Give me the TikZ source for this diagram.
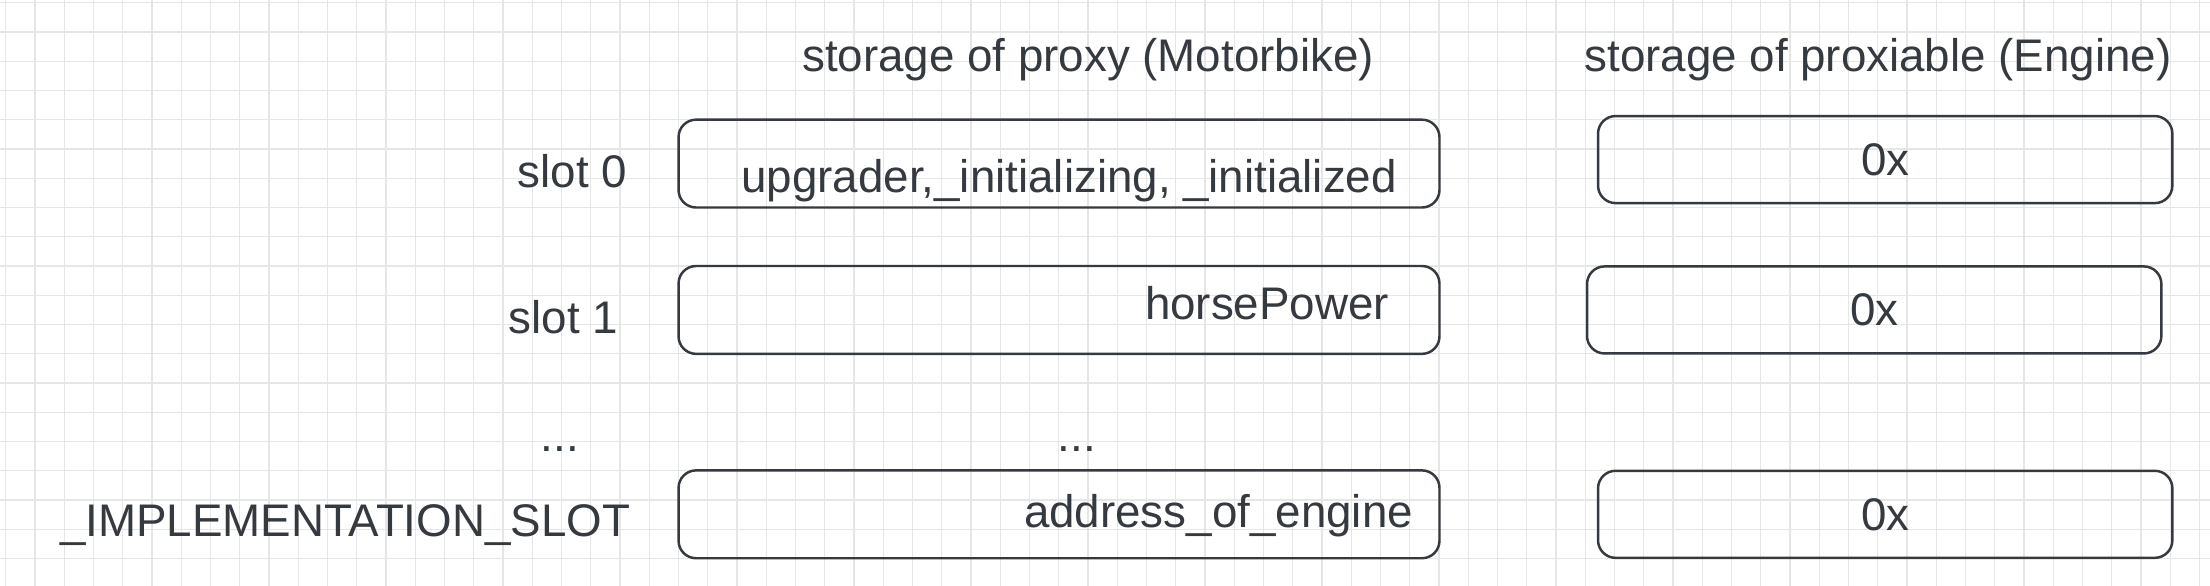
\documentclass[tikz,border=0pt]{standalone}
\usepackage{fontspec}
\setmainfont{Liberation Sans}
\usepackage{tikz}
\usetikzlibrary{positioning}
\definecolor{ink}{HTML}{343A40}
\definecolor{gridgray}{HTML}{E6E6E6}
\tikzset{
  slotbox/.style={rectangle,rounded corners=5pt,draw=ink,line width=0.7pt,
    minimum width=7.605cm,minimum height=0.878cm,inner sep=0pt},
  valbox/.style={rectangle,rounded corners=5pt,draw=ink,line width=0.7pt,
    minimum width=5.74cm,minimum height=0.87cm,inner sep=0pt,text=ink,
    font=\fontsize{13}{15}\selectfont},
  celltext/.style={text=ink,inner sep=0pt,font=\fontsize{13}{15}\selectfont},
  rowtext/.style={text=ink,inner sep=0pt,font=\fontsize{13}{15}\selectfont},
  headtext/.style={text=ink,inner sep=0pt,font=\fontsize{13}{15}\selectfont},
  gridline/.style={draw=gridgray,line width=0.35pt}
}

\begin{document}
\begin{tikzpicture}[x=0.01cm,y=-0.01cm]
  \fill[white] (0,0) rectangle (2210,586);
  \useasboundingbox (0,0) rectangle (2210,586);
  % background grid
  \foreach \i in {0,...,75}
    \draw[gridline] (5.7+\i*29.25,0) -- (5.7+\i*29.25,586);
  \foreach \j in {0,...,19}
    \draw[gridline] (0,2.7+\j*29.25) -- (2210,2.7+\j*29.25);

  % proxy storage
  \node[slotbox] (p0) at (1059,163.6) {};
  \node[slotbox, below=0.56cm of p0] (p1) {};
  \node[slotbox, below=1.14cm of p1] (p2) {};

  % proxiable storage
  \node[valbox, right=1.56cm of p0, yshift=0.04cm] (e0) {0x};
  \node[valbox, right=1.45cm of p1] (e1) {0x};
  \node[valbox, right=1.56cm of p2] (e2) {0x};

  \node[celltext, anchor=base east] (v0) at ([xshift=-0.43cm,yshift=-0.284cm]p0.east)
    {upgrader,\_initializing, \_initialized};
  \node[celltext, anchor=base east] (v1) at ([xshift=-0.51cm,yshift=-0.10cm]p1.east)
    {horsePower};
  \node[celltext, anchor=base east] (v2) at ([xshift=-0.27cm,yshift=-0.134cm]p2.east)
    {address\_of\_engine};

  % slot names
  \node[rowtext, anchor=base east] (s0) at ([xshift=-0.495cm,yshift=-0.234cm]p0.west) {slot 0};
  \node[rowtext, anchor=base east] (s1) at ([xshift=-0.585cm,yshift=-0.24cm]p1.west) {slot 1};
  \node[rowtext, anchor=base east] (s2) at ([xshift=-0.465cm,yshift=-0.225cm]p2.west)
    {\_IMPLEMENTATION\_SLOT};
  \node[rowtext, anchor=base] (d0) at (560,452) {...};
  \node[rowtext, anchor=base] (d1) at (1077,452) {...};

  % column titles
  \node[headtext, anchor=base] (h0) at (1088,72) {storage of proxy (Motorbike)};
  \node[headtext, anchor=base] (h1) at (1878,72) {storage of proxiable (Engine)};
\end{tikzpicture}
\end{document}
